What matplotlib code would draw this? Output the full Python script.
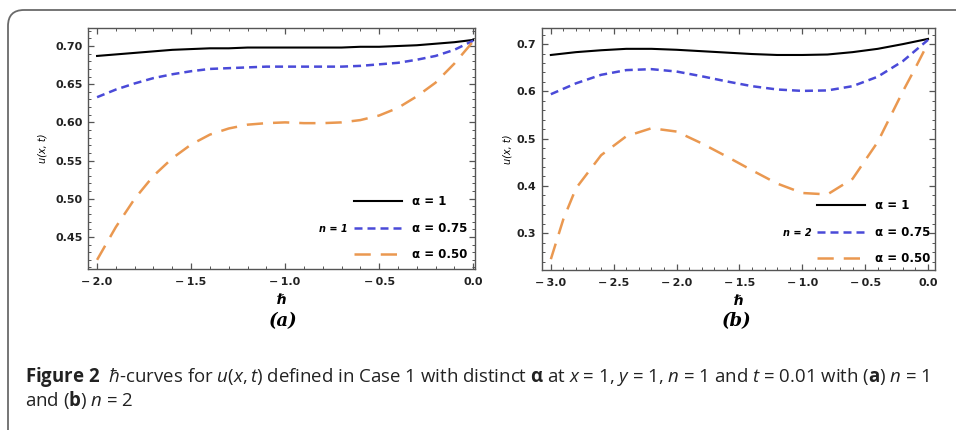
import matplotlib
matplotlib.use("Agg")
import matplotlib.pyplot as plt
from matplotlib.patches import FancyBboxPatch
from matplotlib.ticker import MultipleLocator, FuncFormatter

# panel (a): n = 1
h_a = [-2.0, -1.9, -1.8, -1.7, -1.6, -1.5, -1.4, -1.3, -1.2, -1.1, -1.0,
       -0.9, -0.8, -0.7, -0.6, -0.5, -0.4, -0.3, -0.2, -0.1, 0.0]
u_a_100 = [0.687, 0.689, 0.691, 0.693, 0.695, 0.696, 0.697, 0.697, 0.698, 0.698, 0.698,
           0.698, 0.698, 0.698, 0.699, 0.699, 0.700, 0.701, 0.703, 0.705, 0.708]
u_a_075 = [0.633, 0.643, 0.651, 0.658, 0.663, 0.667, 0.670, 0.671, 0.672, 0.673, 0.673,
           0.673, 0.673, 0.673, 0.674, 0.676, 0.678, 0.682, 0.687, 0.695, 0.707]
u_a_050 = [0.420, 0.463, 0.500, 0.530, 0.553, 0.571, 0.584, 0.592, 0.597, 0.599, 0.600,
           0.599, 0.599, 0.600, 0.603, 0.609, 0.619, 0.634, 0.652, 0.677, 0.706]

# panel (b): n = 2
h_b = [-3.0, -2.8, -2.6, -2.4, -2.2, -2.0, -1.8, -1.6, -1.4, -1.2, -1.0,
       -0.8, -0.6, -0.4, -0.2, 0.0]
u_b_100 = [0.677, 0.683, 0.687, 0.690, 0.690, 0.688, 0.685, 0.682, 0.679, 0.677, 0.677,
           0.678, 0.683, 0.690, 0.700, 0.711]
u_b_075 = [0.594, 0.617, 0.635, 0.645, 0.647, 0.642, 0.632, 0.621, 0.611, 0.604, 0.601,
           0.602, 0.611, 0.631, 0.664, 0.709]
h_b_050 = [-3.0, -2.9, -2.8, -2.6, -2.4, -2.2, -2.0, -1.8, -1.6, -1.4, -1.2, -1.0,
           -0.8, -0.6, -0.4, -0.2, -0.1, 0.0]
u_b_050 = [0.245, 0.330, 0.395, 0.465, 0.505, 0.522, 0.515, 0.490, 0.462, 0.433, 0.405, 0.385,
           0.382, 0.415, 0.493, 0.600, 0.650, 0.702]

alpha_labels = ["α = 1", "α = 0.75", "α = 0.50"]

BLUE = "#4a4ad8"
ORANGE = "#ea9850"


def fmt(v, pos, nd):
    s = f"{abs(v):.{nd}f}"
    if v < -1e-9:
        s = "\u2212\u2009" + s
    return s


fig = plt.figure(figsize=(9.56, 4.3), dpi=100)

# outer rounded frame (in inches)
frame = FancyBboxPatch((0.08, -0.6), 10.0, 4.8,
                       boxstyle="round,pad=0,rounding_size=0.16",
                       transform=fig.dpi_scale_trans, fill=False,
                       edgecolor="#6a6a6a", linewidth=1.3)
fig.add_artist(frame)

ax1 = fig.add_axes([0.0921, 0.3744, 0.4048, 0.5605])
ax2 = fig.add_axes([0.5670, 0.3720, 0.4111, 0.5628])

panels = [
    (ax1, h_a, [u_a_100, u_a_075, u_a_050], h_a, (-2.048, 0.01), (0.408, 0.7236),
     0.5, 0.1, 0.05, 0.01, 2, "n = 1", (0.672, 0.166), -0.105, 0.25),
    (ax2, h_b, [u_b_100, u_b_075, u_b_050], h_b_050, (-3.07, 0.056), (0.222, 0.734),
     0.5, 0.1, 0.1, 0.02, 1, "n = 2", (0.687, 0.153), -0.075, 0.0),
]

for (ax, hx, ys, hx3, xl, yl, xmaj, xmin, ymaj, ymin, nd, ntxt, npos, ylx, lpad) in panels:
    l1, = ax.plot(hx, ys[0], color="black", lw=1.5)
    l2, = ax.plot(hx, ys[1], color=BLUE, lw=1.8, dashes=(3.2, 2.0))
    l3, = ax.plot(hx3, ys[2], color=ORANGE, lw=1.8, dashes=(6.5, 4.0))
    ax.set_xlim(*xl)
    ax.set_ylim(*yl)
    ax.xaxis.set_major_locator(MultipleLocator(xmaj))
    ax.xaxis.set_minor_locator(MultipleLocator(xmin))
    ax.yaxis.set_major_locator(MultipleLocator(ymaj))
    ax.yaxis.set_minor_locator(MultipleLocator(ymin))
    ax.xaxis.set_major_formatter(FuncFormatter(lambda v, p: fmt(v, p, 1)))
    ax.yaxis.set_major_formatter(FuncFormatter(lambda v, p, nd=nd: fmt(v, p, nd)))
    ax.tick_params(which="both", direction="in", top=True, right=True,
                   color="#555555")
    ax.tick_params(which="major", length=4, width=0.9, labelsize=8)
    ax.tick_params(axis="x", which="major", pad=6)
    ax.tick_params(axis="y", which="major", pad=4)
    ax.tick_params(which="minor", length=2, width=0.7)
    for lab in ax.get_xticklabels() + ax.get_yticklabels():
        lab.set_fontweight("bold")
        lab.set_color("#222222")
    for sp in ax.spines.values():
        sp.set_color("#555555")
        sp.set_linewidth(1.0)

    ax.set_xlabel("ℏ", fontsize=10, fontweight="bold")
    ax.xaxis.set_label_coords(0.5, -0.098)
    ax.set_ylabel("u(x, t)", fontsize=7, fontstyle="italic")
    ax.yaxis.set_label_coords(ylx, 0.5)

    leg = ax.legend([l1, l2, l3], alpha_labels, loc="lower right",
                    bbox_to_anchor=(1.0, 0.0), frameon=False,
                    handlelength=4.1, handletextpad=0.85, labelspacing=1.15,
                    borderaxespad=lpad, prop={"weight": "bold", "size": 8.5})
    ax.text(npos[0], npos[1], ntxt, transform=ax.transAxes, ha="right",
            va="center", fontsize=7, fontweight="bold", fontstyle="italic")

fig.text(283 / 956, 1 - 321 / 430, "(a)", ha="center", va="center",
         fontsize=13, family="DejaVu Serif", fontweight="bold", fontstyle="italic")
fig.text(737 / 956, 1 - 321 / 430, "(b)", ha="center", va="center",
         fontsize=13, family="DejaVu Serif", fontweight="bold", fontstyle="italic")

plt.rcParams["mathtext.fontset"] = "custom"
plt.rcParams["mathtext.rm"] = "Open Sans"
plt.rcParams["mathtext.it"] = "Open Sans:italic"
plt.rcParams["mathtext.bf"] = "Open Sans:bold"

cap1 = (r"$\mathbf{Figure\ 2}$  $\hbar$-curves for $u(x,t)$ defined in Case 1 with "
        r"distinct $\mathbf{\alpha}$ at $x$ = 1, $y$ = 1, $n$ = 1 and $t$ = 0.01 with "
        r"($\mathbf{a}$) $n$ = 1")
cap2 = r"and ($\mathbf{b}$) $n$ = 2"
fig.text(25 / 956, 1 - 377 / 430, cap1, ha="left", va="center", fontsize=13.4,
         family="Open Sans", color="#222222")
fig.text(25 / 956, 1 - 400 / 430, cap2, ha="left", va="center", fontsize=13.4,
         family="Open Sans", color="#222222")

fig.savefig("out.png", dpi=100)
